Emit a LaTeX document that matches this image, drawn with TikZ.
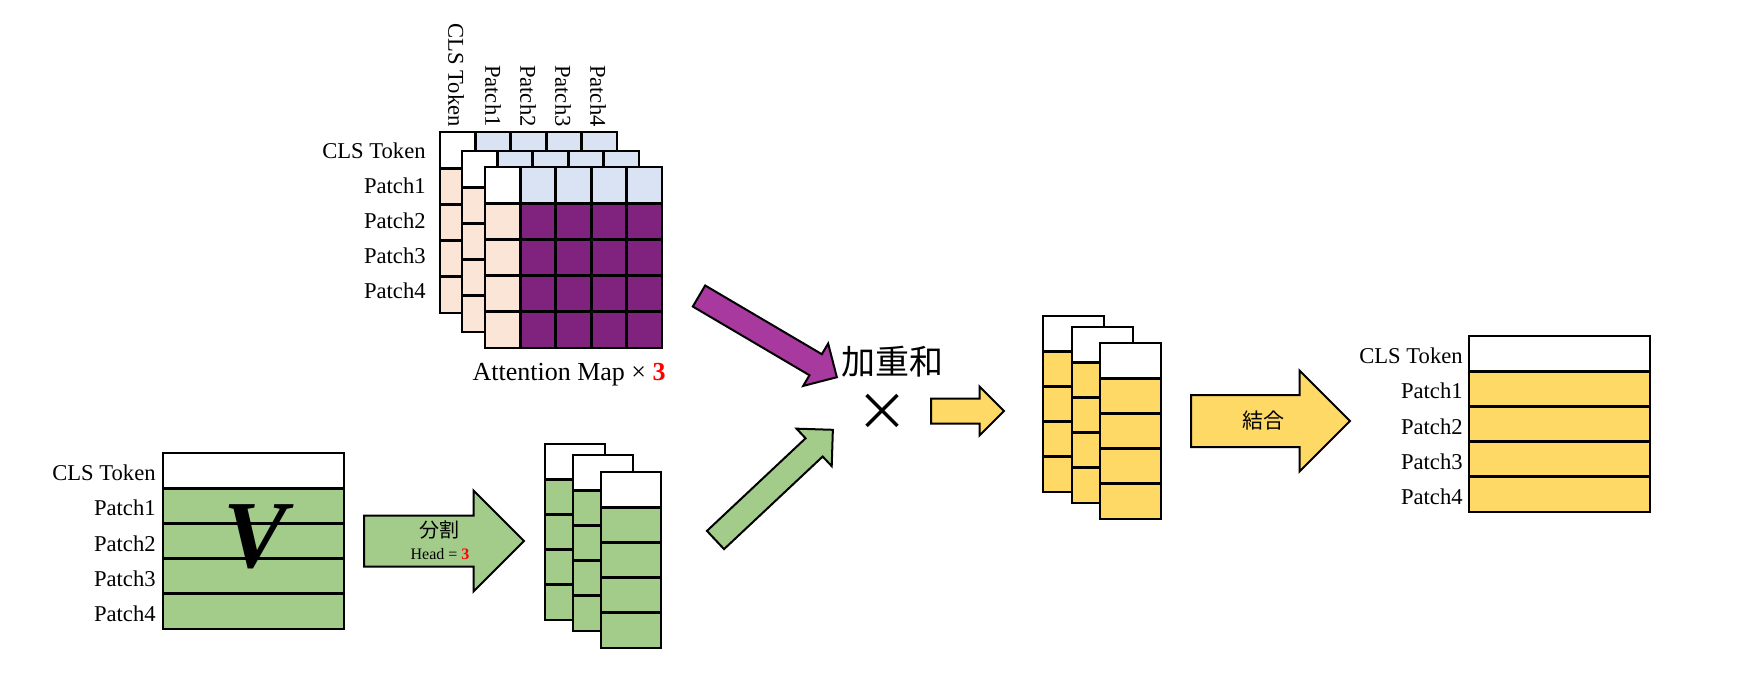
\documentclass[tikz,border=0pt]{standalone}
\usepackage{fontspec}
\setmainfont{Liberation Serif}
\newfontfamily\cjk{Noto Sans CJK JP}
\usetikzlibrary{shapes.arrows}

\definecolor{attnpurple}{HTML}{80237F}
\definecolor{attnpeach}{HTML}{FBE5D6}
\definecolor{attnblue}{HTML}{DAE3F3}
\definecolor{vgreen}{HTML}{A3CC8B}
\definecolor{outyellow}{HTML}{FFD966}
\definecolor{arrowmag}{HTML}{A8399F}

\tikzset{
  cell/.style={draw=black, line width=1.35pt},
  blockarrow/.style={draw=black, line width=1pt, shape=single arrow, inner xsep=0pt, outer sep=0pt,
    minimum width=0pt, anchor=tail},
  rowlab/.style={anchor=east, inner sep=0pt, font=\fontsize{11.3}{13}\selectfont},
}

\begin{document}
\begin{tikzpicture}[x=0.5pt, y=-0.5pt]
\useasboundingbox (0,0) rectangle (1745,698);

% attention maps, back to front
\foreach \ox/\oy in {440/132, 462/151, 485/167}{
  \begin{scope}[shift={(\ox,\oy)}]
    \fill[attnpurple] (0,0) rectangle (177,181);
    \fill[white] (0,0) rectangle (35.4,36.2);
    \fill[attnblue] (35.4,0) rectangle (177,36.2);
    \fill[attnpeach] (0,36.2) rectangle (35.4,181);
    \foreach \k in {1,...,4}{
      \draw[cell] (35.4*\k,0) -- (35.4*\k,181);
      \draw[cell] (0,36.2*\k) -- (177,36.2*\k);
    }
    \draw[cell] (0,0) rectangle (177,181);
  \end{scope}
}
\foreach \cx/\lab [count=\n] in {456/CLS Token, 493/Patch1, 528/Patch2, 563/Patch3, 598/Patch4}{
  \node[rowlab, rotate=-90] (collab\n) at (\cx,127) {\lab};
}
\foreach \cy/\lab [count=\n] in {151/CLS Token, 186/Patch1, 221/Patch2, 256/Patch3, 291/Patch4}{
  \node[rowlab] (attlab\n) at (426,\cy) {\lab};
}
\node[anchor=base east, inner sep=0pt, font=\fontsize{13}{15}\selectfont] (attncap) at (666,380)
  {Attention Map × \textcolor{red}{\textbf{3}}};

% V
\foreach \i/\col/\lab in {0/white/CLS Token, 1/vgreen/Patch1, 2/vgreen/Patch2, 3/vgreen/Patch3, 4/vgreen/Patch4}{
  \draw[cell, fill=\col] (163,453+35.2*\i) rectangle (344,488.2+35.2*\i);
  \node[rowlab] (vlab\i) at (156,473+35.2*\i) {\lab};
}
\node[font=\fontsize{48}{50}\selectfont\bfseries\itshape] (vsym) at (256,537) {V};

% split into heads
\node[blockarrow, fill=vgreen, minimum height=80pt, inner ysep=12.25pt, single arrow head extend=12.5pt] (splitarr) at (364,541) {};
\node[font=\cjk\fontsize{10}{12}\selectfont] (splittxt) at (439,530) {分割};
\node[font=\fontsize{8}{10}\selectfont] (headtxt) at (440,554) {Head = \textcolor{red}{\textbf{3}}};

\foreach \sx/\sy in {545/444, 573/455, 601/472}{
  \fill[vgreen] (\sx,\sy) rectangle (\sx+60,\sy+176);
  \fill[white] (\sx,\sy) rectangle (\sx+60,\sy+35.2);
  \foreach \k in {1,...,4}{\draw[cell] (\sx,\sy+35.2*\k) -- (\sx+60,\sy+35.2*\k);}
  \draw[cell] (\sx,\sy) rectangle (\sx+60,\sy+176);
}

% weighted sum
\node[blockarrow, fill=arrowmag, rotate=-30.5, minimum height=80pt, inner ysep=5.6pt, single arrow head extend=6.2pt] (attnarr) at (699,296) {};
\node[blockarrow, fill=vgreen, rotate=43.2, minimum height=80.5pt, inner ysep=5.75pt, single arrow head extend=6.6pt] (varr) at (715.5,540) {};
\node[font=\cjk\fontsize{17}{20}\selectfont] (sumtxt) at (892,362) {加重和};
\node[font=\cjk\fontsize{26}{30}\selectfont] (times) at (882,412) {×};
\node[blockarrow, fill=outyellow, minimum height=36.5pt, inner ysep=5.75pt, single arrow head extend=6pt] (sumarr) at (931,411) {};

\foreach \sx/\sy in {1043/316, 1072/327, 1100/343}{
  \fill[outyellow] (\sx,\sy) rectangle (\sx+61,\sy+176);
  \fill[white] (\sx,\sy) rectangle (\sx+61,\sy+35.2);
  \foreach \k in {1,...,4}{\draw[cell] (\sx,\sy+35.2*\k) -- (\sx+61,\sy+35.2*\k);}
  \draw[cell] (\sx,\sy) rectangle (\sx+61,\sy+176);
}

% concat
\node[blockarrow, fill=outyellow, minimum height=79.5pt, inner ysep=12.5pt, single arrow head extend=12.25pt] (catarr) at (1191,421) {};
\node[font=\cjk\fontsize{10.5}{12}\selectfont] (cattxt) at (1263,421) {結合};

\foreach \i/\col/\lab in {0/white/CLS Token, 1/outyellow/Patch1, 2/outyellow/Patch2, 3/outyellow/Patch3, 4/outyellow/Patch4}{
  \draw[cell, fill=\col] (1469,336+35.2*\i) rectangle (1650,371.2+35.2*\i);
  \node[rowlab] (outlab\i) at (1463,356+35.2*\i) {\lab};
}
\end{tikzpicture}
\end{document}
